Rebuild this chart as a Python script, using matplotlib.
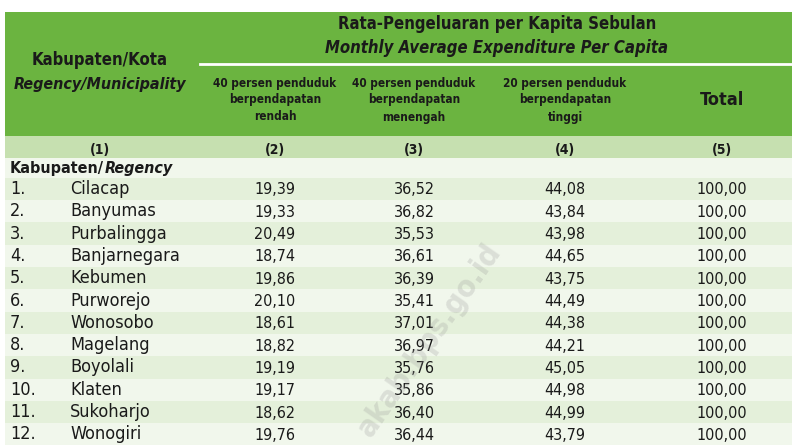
import matplotlib
matplotlib.use("Agg")
import matplotlib.pyplot as plt
from matplotlib.patches import Rectangle

plt.rcParams['font.family'] = ['DejaVu Sans']
plt.rcParams['font.stretch'] = 'condensed'

numbers = ["1.", "2.", "3.", "4.", "5.", "6.", "7.", "8.", "9.", "10.", "11.", "12."]
regencies = ["Cilacap", "Banyumas", "Purbalingga", "Banjarnegara", "Kebumen", "Purworejo",
             "Wonosobo", "Magelang", "Boyolali", "Klaten", "Sukoharjo", "Wonogiri"]
low40 = ["19,39", "19,33", "20,49", "18,74", "19,86", "20,10",
         "18,61", "18,82", "19,19", "19,17", "18,62", "19,76"]
mid40 = ["36,52", "36,82", "35,53", "36,61", "36,39", "35,41",
         "37,01", "36,97", "35,76", "35,86", "36,40", "36,44"]
top20 = ["44,08", "43,84", "43,98", "44,65", "43,75", "44,49",
         "44,38", "44,21", "45,05", "44,98", "44,99", "43,79"]
total = ["100,00"] * 12

GREEN = "#6bb440"
BAND = "#c6e0b0"
ROW_A = "#e4f0da"
ROW_B = "#f1f7ec"

fig = plt.figure(figsize=(8, 4.46), dpi=100)
ax = fig.add_axes([0, 0, 1, 1])
ax.set_xlim(0, 800); ax.set_ylim(446, 0); ax.axis("off")

# header block
ax.add_patch(Rectangle((5, 12), 787, 124, color=GREEN, lw=0))
ax.plot([200, 792], [64, 64], color="white", lw=2)
ax.add_patch(Rectangle((5, 136), 787, 22, color=BAND, lw=0))
ax.add_patch(Rectangle((5, 158), 787, 20, color=ROW_B, lw=0))

dark = "#1a1a1a"
ax.text(100, 60, "Kabupaten/Kota", ha="center", va="center", fontsize=12, weight="bold", color=dark)
ax.text(100, 84, "Regency/Municipality", ha="center", va="center", fontsize=11.5,
        weight="bold", style="italic", color=dark)
ax.text(497, 24, "Rata-Pengeluaran per Kapita Sebulan", ha="center", va="center",
        fontsize=12, weight="bold", color=dark)
ax.text(497, 48, "Monthly Average Expenditure Per Capita", ha="center", va="center",
        fontsize=12, weight="bold", style="italic", color=dark)

xs = [275, 414, 565, 722]
subheads = ["40 persen penduduk\nberpendapatan\nrendah", "40 persen penduduk\nberpendapatan\nmenengah",
            "20 persen penduduk\nberpendapatan\ntinggi"]
for x, s in zip(xs[:3], subheads):
    ax.text(x, 100, s, ha="center", va="center", fontsize=8.5, weight="bold",
            color=dark, linespacing=1.4)
ax.text(xs[3], 100, "Total", ha="center", va="center", fontsize=13, weight="bold", color=dark)

for x, s in zip([100] + xs, ["(1)", "(2)", "(3)", "(4)", "(5)"]):
    ax.text(x, 150, s, ha="center", va="center", fontsize=10, weight="bold", color=dark)

t = ax.text(10, 168, "Kabupaten/", ha="left", va="center", fontsize=11.5, weight="bold", color=dark)
fig.canvas.draw()
bb = t.get_window_extent(fig.canvas.get_renderer())
ax.text(bb.x1 + 1, 168, "Regency", ha="left", va="center", fontsize=11.5, weight="bold",
        style="italic", color=dark)

y0, dy = 189, 22.3
for i in range(len(regencies)):
    y = y0 + i * dy
    ax.add_patch(Rectangle((5, y - dy / 2), 787, dy, color=ROW_A if i % 2 == 0 else ROW_B, lw=0))
    ax.text(10, y, numbers[i], ha="left", va="center", fontsize=13, color=dark)
    ax.text(70, y, regencies[i], ha="left", va="center", fontsize=13, color=dark)
    for x, v in zip(xs, [low40[i], mid40[i], top20[i], total[i]]):
        ax.text(x, y + 1, v, ha="center", va="center", fontsize=11.5, color=dark)

ax.text(430, 340, "akab.bps.go.id", ha="center", va="center", fontsize=22, weight="bold",
        color="#999999", alpha=0.25, rotation=55)

fig.savefig("out.png", dpi=100)
